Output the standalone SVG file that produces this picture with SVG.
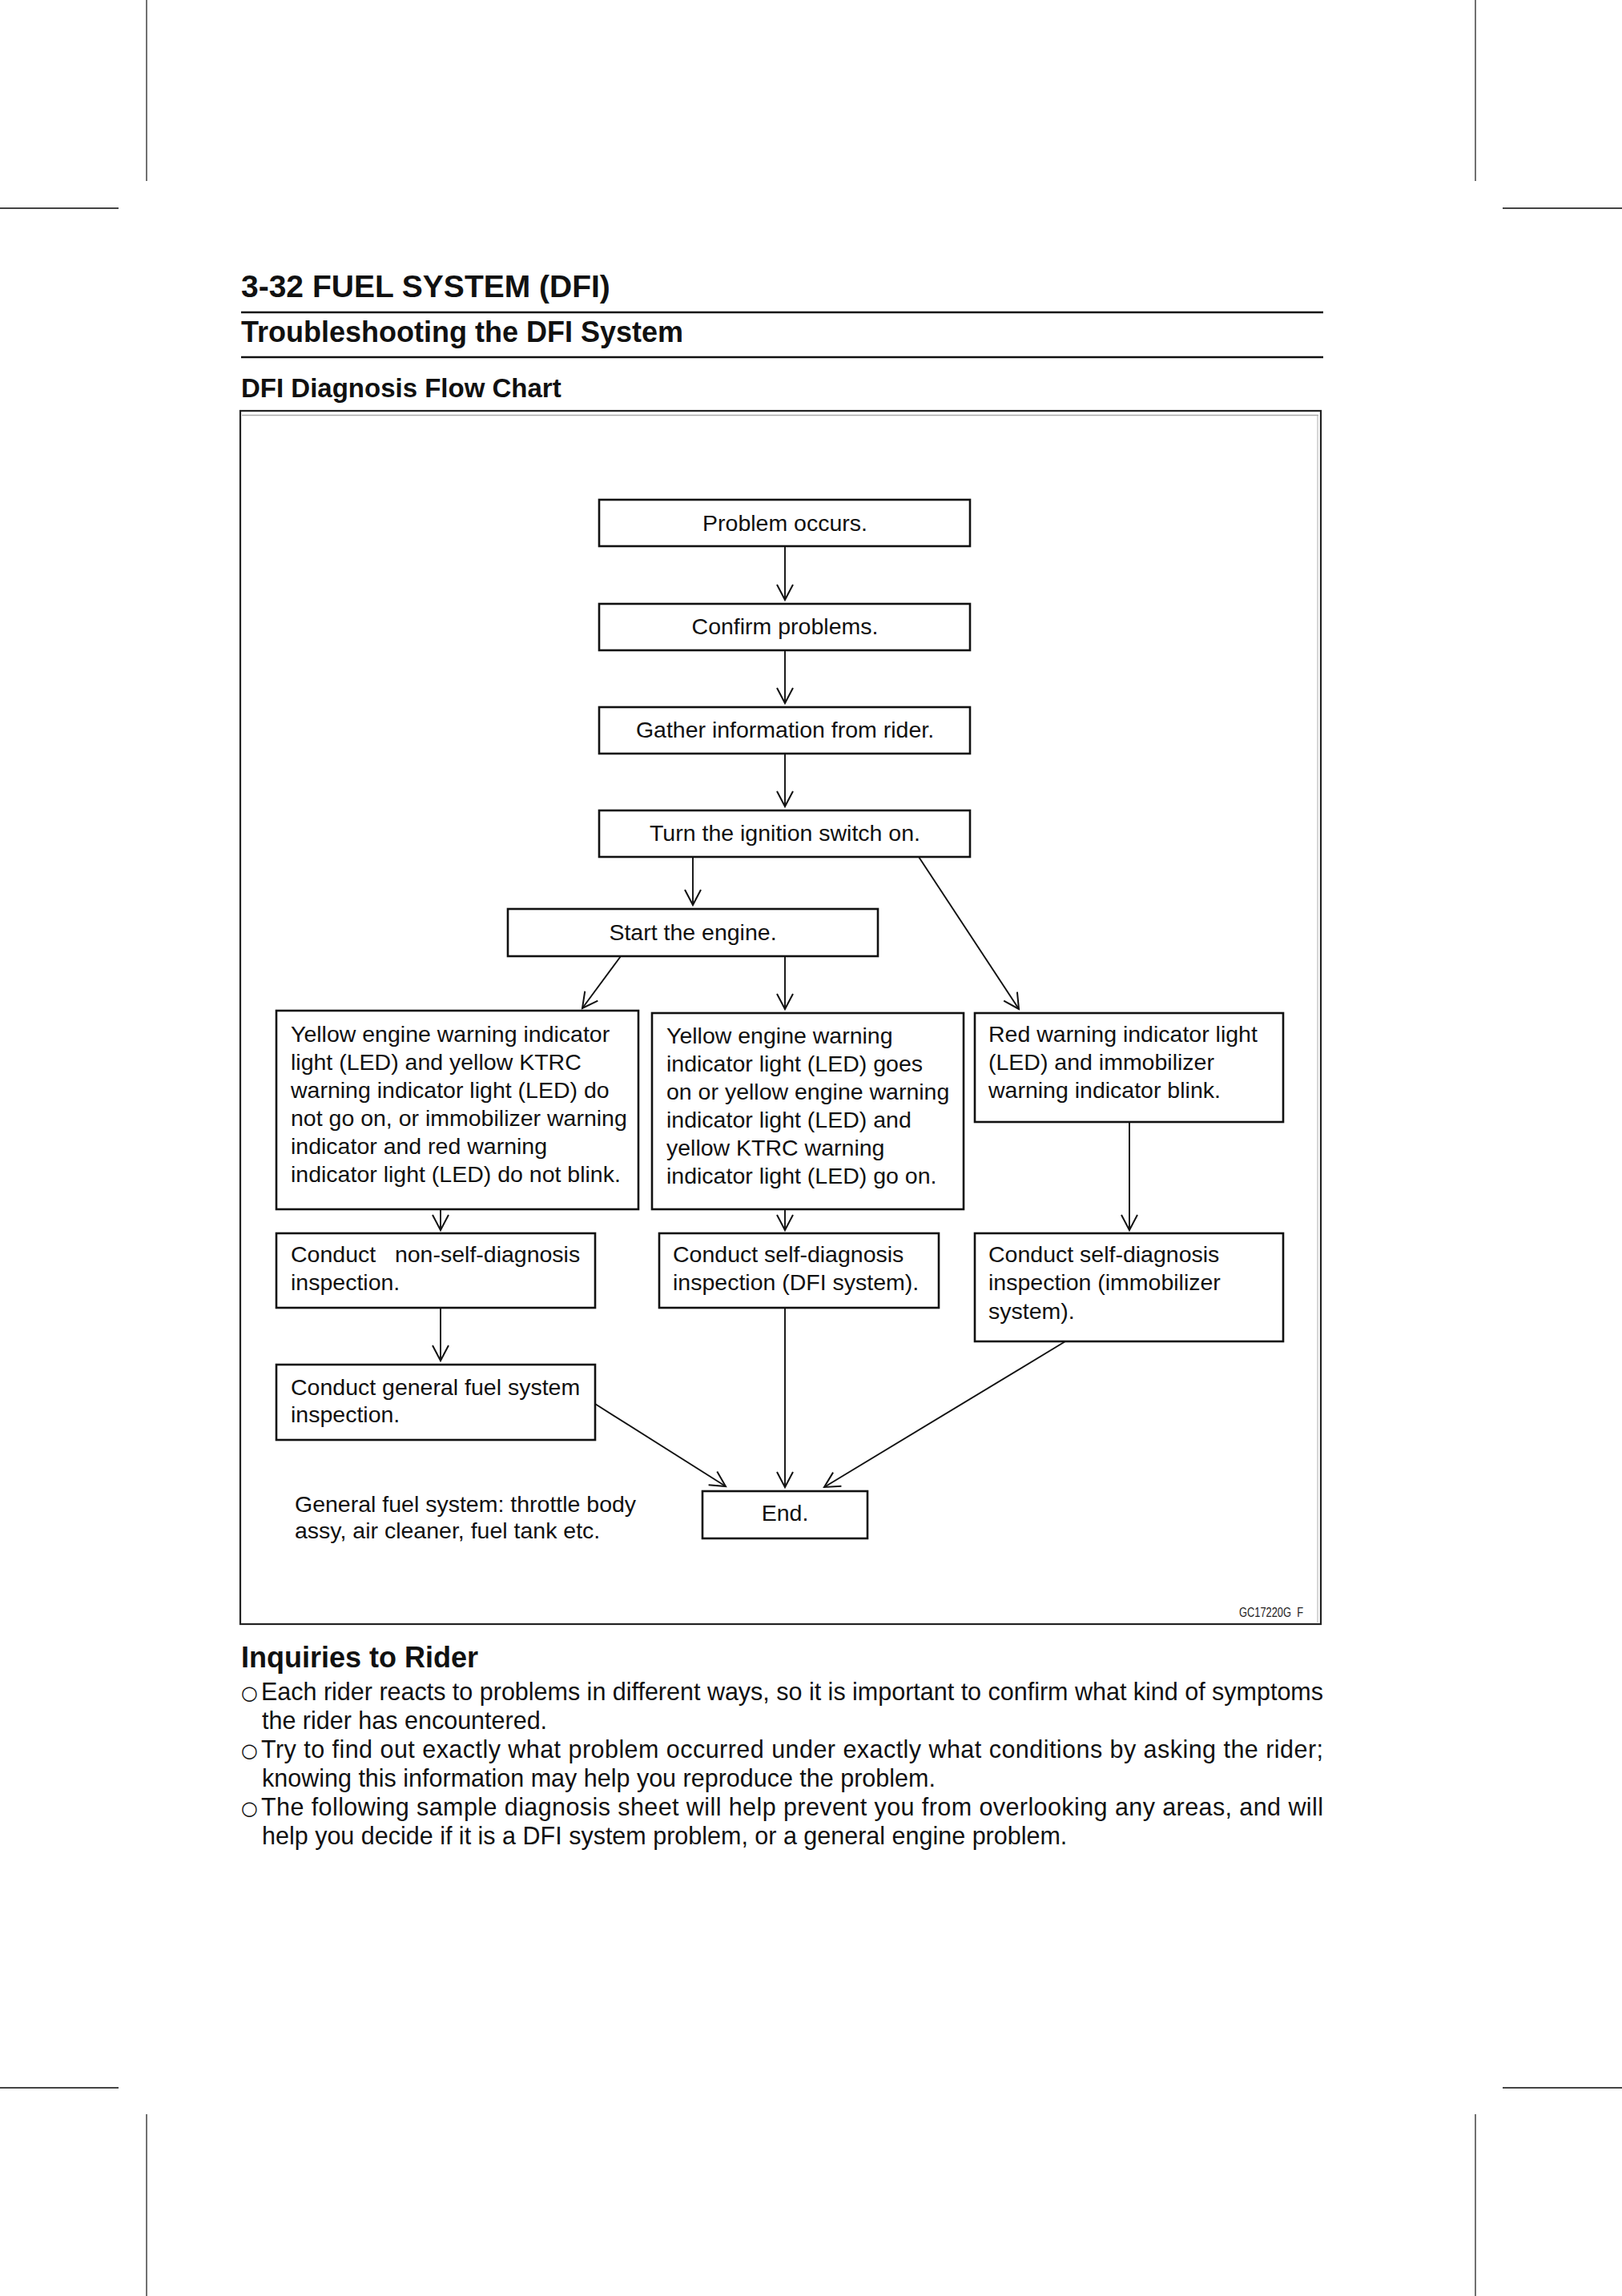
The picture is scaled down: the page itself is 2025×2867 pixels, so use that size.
<svg xmlns="http://www.w3.org/2000/svg" width="2025" height="2867" viewBox="0 0 2025 2867">
<style>
.box{fill:#fff;stroke:#111;stroke-width:2.6}
.t{font-family:"Liberation Sans",Arial,sans-serif;font-size:28.5px;fill:#111}
.c{text-anchor:middle}
.p{font-family:"Liberation Sans",Arial,sans-serif;font-size:30.5px;fill:#111}
.b{font-family:"DejaVu Sans",sans-serif;font-size:24px;fill:#111}
.h{font-family:"Liberation Sans",Arial,sans-serif;font-weight:bold;fill:#111}
.crop{stroke:#111;stroke-width:1.2}
.cropg{stroke:#444;stroke-width:2.2}
.rule{stroke:#111;stroke-width:2.6}
#connectors line{stroke:#111;stroke-width:1.9;fill:none;marker-end:url(#ah)}
</style>
<defs>
<marker id="ah" markerUnits="userSpaceOnUse" markerWidth="24" markerHeight="24" viewBox="-1 -1 22 24" refX="19" refY="10" orient="auto">
<path d="M0,0 L19,10 L0,20" fill="none" stroke="#111" stroke-width="2"/>
</marker>
</defs>
<rect width="2025" height="2867" fill="#fff"/>

<g id="cropmarks">
<line class="crop" x1="183" y1="0" x2="183" y2="226"/>
<line class="crop" x1="1842" y1="0" x2="1842" y2="226"/>
<line class="cropg" x1="0" y1="260" x2="148" y2="260"/>
<line class="cropg" x1="1876" y1="260" x2="2025" y2="260"/>
<line class="cropg" x1="0" y1="2607" x2="148" y2="2607"/>
<line class="cropg" x1="1876" y1="2607" x2="2025" y2="2607"/>
<line class="crop" x1="183" y1="2640" x2="183" y2="2867"/>
<line class="crop" x1="1842" y1="2640" x2="1842" y2="2867"/>
</g>

<g id="header">
<text class="h" x="301" y="371" font-size="39">3-32 FUEL SYSTEM (DFI)</text>
<line class="rule" x1="301" y1="390" x2="1652" y2="390"/>
<text class="h" x="301" y="427" font-size="36">Troubleshooting the DFI System</text>
<line class="rule" x1="301" y1="446" x2="1652" y2="446"/>
<text class="h" x="301" y="496" font-size="33">DFI Diagnosis Flow Chart</text>
</g>

<g id="frame">
<rect x="300" y="513" width="1349" height="1515" fill="none" stroke="#222" stroke-width="2.2"/>
<line x1="302" y1="518.5" x2="1646" y2="518.5" stroke="#aaa" stroke-width="1.5"/>
<line x1="1645" y1="519" x2="1645" y2="2026" stroke="#bbb" stroke-width="1.2"/>
</g>

<g id="connectors">
<line x1="980" y1="682" x2="980" y2="749"/>
<line x1="980" y1="812" x2="980" y2="878"/>
<line x1="980" y1="941" x2="980" y2="1007"/>
<line x1="865" y1="1070" x2="865" y2="1130"/>
<line x1="1147" y1="1070" x2="1272" y2="1260"/>
<line x1="775" y1="1194" x2="727" y2="1259"/>
<line x1="980" y1="1194" x2="980" y2="1260"/>
<line x1="550" y1="1510" x2="550" y2="1536"/>
<line x1="980" y1="1510" x2="980" y2="1536"/>
<line x1="1410" y1="1401" x2="1410" y2="1536"/>
<line x1="550" y1="1633" x2="550" y2="1699"/>
<line x1="743" y1="1753" x2="906" y2="1856"/>
<line x1="980" y1="1633" x2="980" y2="1857"/>
<line x1="1330" y1="1675" x2="1029" y2="1857"/>
</g>

<g id="n-problem">
<rect class="box" x="748" y="624" width="463" height="58"/>
<text class="t c" x="980" y="663">Problem occurs.</text>
</g>
<g id="n-confirm">
<rect class="box" x="748" y="754" width="463" height="58"/>
<text class="t c" x="980" y="792">Confirm problems.</text>
</g>
<g id="n-gather">
<rect class="box" x="748" y="883" width="463" height="58"/>
<text class="t c" x="980" y="921">Gather information from rider.</text>
</g>
<g id="n-ignition">
<rect class="box" x="748" y="1012" width="463" height="58"/>
<text class="t c" x="980" y="1050">Turn the ignition switch on.</text>
</g>
<g id="n-start">
<rect class="box" x="634" y="1135" width="462" height="59"/>
<text class="t c" x="865" y="1174">Start the engine.</text>
</g>
<g id="n-yellow-off">
<rect class="box" x="345" y="1262" width="452" height="248"/>
<text class="t" x="363" y="1301">Yellow engine warning indicator</text>
<text class="t" x="363" y="1336">light (LED) and yellow KTRC</text>
<text class="t" x="363" y="1371">warning indicator light (LED) do</text>
<text class="t" x="363" y="1406">not go on, or immobilizer warning</text>
<text class="t" x="363" y="1441">indicator and red warning</text>
<text class="t" x="363" y="1476">indicator light (LED) do not blink.</text>
</g>
<g id="n-yellow-on">
<rect class="box" x="814" y="1265" width="389" height="245"/>
<text class="t" x="832" y="1303">Yellow engine warning</text>
<text class="t" x="832" y="1338">indicator light (LED) goes</text>
<text class="t" x="832" y="1373">on or yellow engine warning</text>
<text class="t" x="832" y="1408">indicator light (LED) and</text>
<text class="t" x="832" y="1443">yellow KTRC warning</text>
<text class="t" x="832" y="1478">indicator light (LED) go on.</text>
</g>
<g id="n-red">
<rect class="box" x="1217" y="1265" width="385" height="136"/>
<text class="t" x="1234" y="1301">Red warning indicator light</text>
<text class="t" x="1234" y="1336">(LED) and immobilizer</text>
<text class="t" x="1234" y="1371">warning indicator blink.</text>
</g>
<g id="n-nonself">
<rect class="box" x="345" y="1540" width="398" height="93"/>
<text class="t" x="363" y="1576" xml:space="preserve">Conduct   non-self-diagnosis</text>
<text class="t" x="363" y="1611">inspection.</text>
</g>
<g id="n-self-dfi">
<rect class="box" x="823" y="1540" width="349" height="93"/>
<text class="t" x="840" y="1576">Conduct self-diagnosis</text>
<text class="t" x="840" y="1611">inspection (DFI system).</text>
</g>
<g id="n-self-immo">
<rect class="box" x="1217" y="1540" width="385" height="135"/>
<text class="t" x="1234" y="1576">Conduct self-diagnosis</text>
<text class="t" x="1234" y="1611">inspection (immobilizer</text>
<text class="t" x="1234" y="1647">system).</text>
</g>
<g id="n-general">
<rect class="box" x="345" y="1704" width="398" height="94"/>
<text class="t" x="363" y="1742">Conduct general fuel system</text>
<text class="t" x="363" y="1776">inspection.</text>
</g>
<g id="n-end">
<rect class="box" x="877" y="1862" width="206" height="59"/>
<text class="t c" x="980" y="1899">End.</text>
</g>

<g id="footnote">
<text class="t" x="368" y="1888">General fuel system: throttle body</text>
<text class="t" x="368" y="1921">assy, air cleaner, fuel tank etc.</text>
<text x="1547" y="2019" font-family="Liberation Sans,Arial,sans-serif" font-size="16" fill="#222" textLength="80" lengthAdjust="spacingAndGlyphs" xml:space="preserve">GC17220G  F</text>
</g>

<g id="inquiries">
<text class="h" x="301" y="2082" font-size="36">Inquiries to Rider</text>
<text class="b" x="301" y="2122">○</text>
<text class="p" x="326" y="2123" textLength="1326" lengthAdjust="spacing">Each rider reacts to problems in different ways, so it is important to confirm what kind of symptoms</text>
<text class="p" x="327" y="2159">the rider has encountered.</text>
<text class="b" x="301" y="2194">○</text>
<text class="p" x="326" y="2195" textLength="1326" lengthAdjust="spacing">Try to find out exactly what problem occurred under exactly what conditions by asking the rider;</text>
<text class="p" x="327" y="2231">knowing this information may help you reproduce the problem.</text>
<text class="b" x="301" y="2266">○</text>
<text class="p" x="326" y="2267" textLength="1326" lengthAdjust="spacing">The following sample diagnosis sheet will help prevent you from overlooking any areas, and will</text>
<text class="p" x="327" y="2303">help you decide if it is a DFI system problem, or a general engine problem.</text>
</g>
</svg>
